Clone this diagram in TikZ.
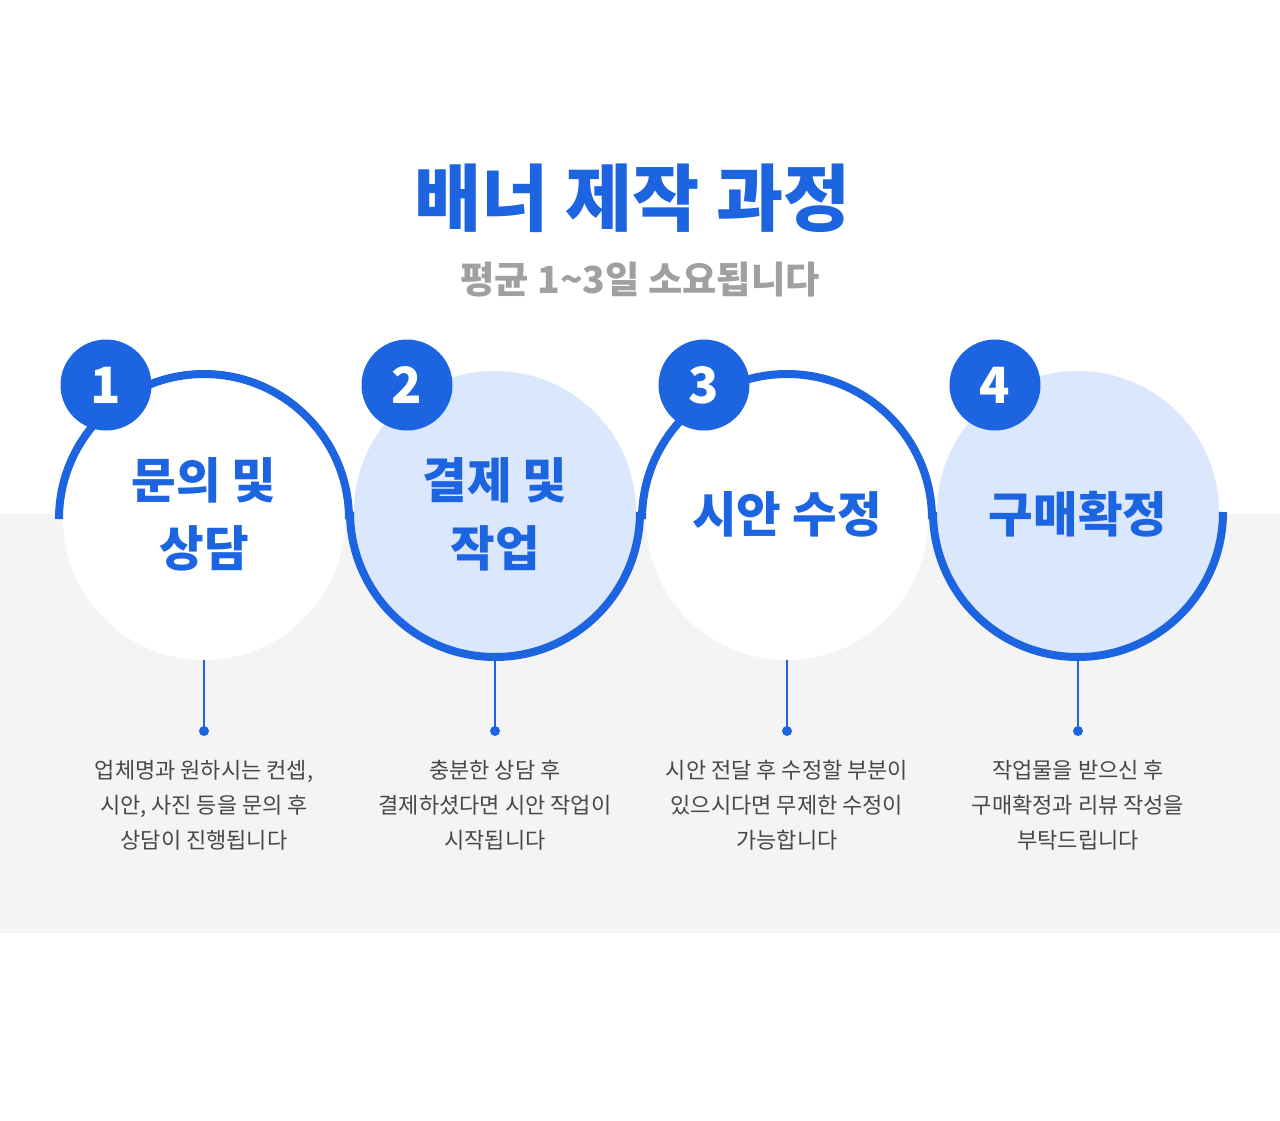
\documentclass[tikz,border=0pt]{standalone}
\usepackage{fontspec}
\usetikzlibrary{calc}
\setmainfont{Noto Sans CJK KR}
\definecolor{mainblue}{HTML}{1D64E0}
\definecolor{lightblue}{HTML}{DAE7FD}
\definecolor{bandgray}{HTML}{F4F4F4}
\definecolor{subgray}{HTML}{A0A0A0}
\definecolor{desctext}{HTML}{484848}
\tikzset{
  fillwhite/.style={circle, fill=white, minimum size=282pt, inner sep=0pt},
  filllight/.style={circle, fill=lightblue, minimum size=282pt, inner sep=0pt},
  ring/.style={draw=mainblue, line width=8pt},
  badge/.style={circle, fill=mainblue, minimum size=91pt, inner sep=0pt, text=white, font=\bfseries\fontsize{50}{50}\selectfont},
  steplabel/.style={text=mainblue, align=center, font=\bfseries\fontsize{48.5}{68}\selectfont},
  stem/.style={draw=mainblue, line width=2.2pt},
  stemdot/.style={circle, fill=mainblue, minimum size=10pt, inner sep=0pt},
  desc/.style={text=desctext, align=center, font=\fontsize{22}{35}\selectfont},
}
\begin{document}
\begin{tikzpicture}[x=1pt,y=1pt]
\useasboundingbox (0,0) rectangle (1280,-1120);
\fill[white] (0,0) rectangle (1280,-1120);
\fill[bandgray] (0,-514) rectangle (1280,-933);

% titles
\node[text=mainblue, font=\bfseries\fontsize{73}{73}\selectfont] (title) at (632.5,-198) {배너 제작 과정};
\node[text=subgray, font=\bfseries\fontsize{37.3}{37.3}\selectfont] (subtitle) at (640,-280) {평균 1\char`\~3일 소요됩니다};

% circle fills
\node[fillwhite] (c1) at (204,-519) {};
\node[filllight] (c2) at (495,-512) {};
\node[fillwhite] (c3) at (787,-519) {};
\node[filllight] (c4) at (1078,-512) {};

% rings
\draw[ring] ($(c1.center)+(-145,0)$) arc[start angle=180, end angle=0, radius=145];
\draw[ring] ($(c2.center)+(-145,0)$) arc[start angle=180, end angle=360, radius=145];
\draw[ring] ($(c3.center)+(-145,0)$) arc[start angle=180, end angle=0, radius=145];
\draw[ring] ($(c4.center)+(-145,0)$) arc[start angle=180, end angle=360, radius=145];

% badges
\node[badge] (b1) at (106,-385) {1};
\node[badge] (b2) at (407,-385) {2};
\node[badge] (b3) at (704,-385) {3};
\node[badge] (b4) at (995,-385) {4};

% labels
\node[steplabel] (l1) at (204,-514) {문의 및\\상담};
\node[steplabel] (l2) at (495,-514) {결제 및\\작업};
\node[steplabel] (l3) at (787,-514) {시안 수정};
\node[steplabel] (l4) at (1078,-514) {구매확정};

% stems
\foreach \i/\x in {1/204,2/495,3/787,4/1078}{
  \coordinate (s\i) at (\x,-660);
  \node[stemdot] (d\i) at (\x,-731) {};
  \draw[stem] (s\i) -- (d\i.center);
}

% descriptions
\node[desc] (t1) at (204,-805) {업체명과 원하시는 컨셉,\\시안, 사진 등을 문의 후\\상담이 진행됩니다};
\node[desc] (t2) at (495,-805) {충분한 상담 후\\결제하셨다면 시안 작업이\\시작됩니다};
\node[desc] (t3) at (787,-805) {시안 전달 후 수정할 부분이\\있으시다면 무제한 수정이\\가능합니다};
\node[desc] (t4) at (1078,-805) {작업물을 받으신 후\\구매확정과 리뷰 작성을\\부탁드립니다};
\end{tikzpicture}
\end{document}
